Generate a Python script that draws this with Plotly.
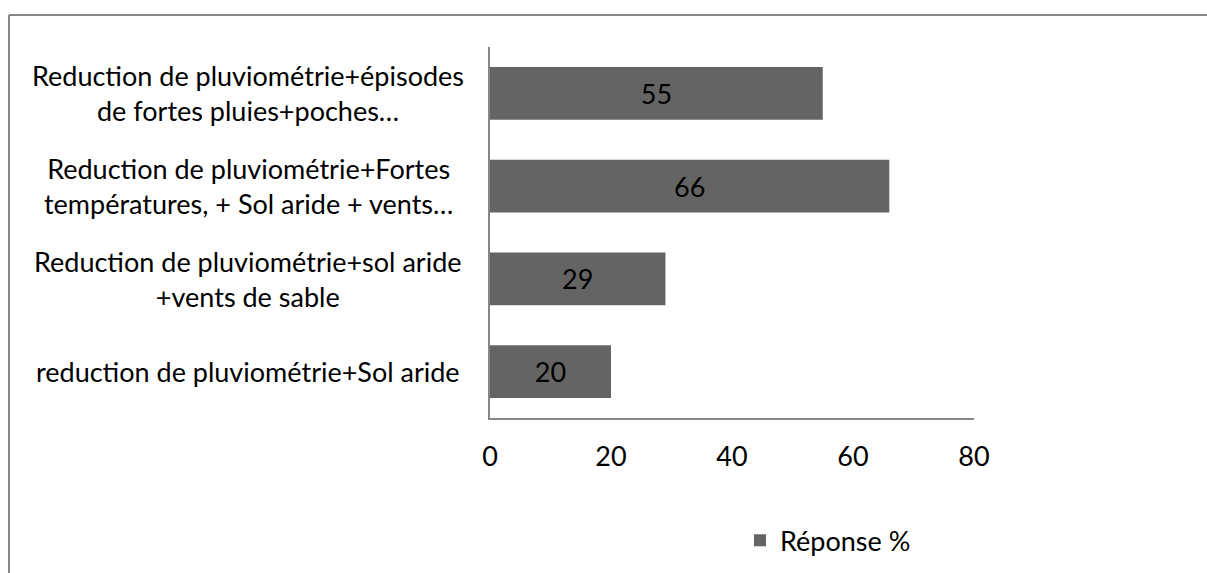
import plotly.graph_objects as go

categories = [
    "reduction de pluviométrie+Sol aride",
    "Reduction de pluviométrie+sol aride<br>+vents de sable",
    "Reduction de pluviométrie+Fortes<br>températures, + Sol aride + vents…",
    "Reduction de pluviométrie+épisodes<br>de fortes pluies+poches…",
]
values = [20, 29, 66, 55]
x_ticks = [0, 20, 40, 60, 80]
series_name = "Réponse %"

FONT = "Lato"
FS = 27
BAR = "#646464"
AXIS = "#868686"

fig = go.Figure()
fig.add_trace(go.Bar(
    y=categories,
    x=values,
    orientation="h",
    name=series_name,
    marker=dict(color=BAR, line=dict(width=0)),
    width=0.57,
    text=[str(v) for v in values],
    textposition="inside",
    insidetextanchor="middle",
    textfont=dict(family=FONT, size=FS, color="#000000"),
    showlegend=True,
))

# category labels, centered like the original
for c in categories:
    fig.add_annotation(
        x=-0.5, xref="paper", y=c, yref="y",
        text=c, showarrow=False, xanchor="center", align="center",
        font=dict(family=FONT, size=FS, color="#000000"),
    )

# outer chart border (only top and left edges are in view)
fig.add_shape(type="line", xref="paper", yref="paper",
              x0=-0.9938, x1=2.0, y0=1.0863, y1=1.0863,
              line=dict(color=AXIS, width=2))
fig.add_shape(type="line", xref="paper", yref="paper",
              x0=-0.9938, x1=-0.9938, y0=-2.0, y1=1.0863,
              line=dict(color=AXIS, width=2))

fig.update_layout(
    width=1207, height=573,
    margin=dict(l=490, r=233, t=47, b=155, autoexpand=False),
    paper_bgcolor="white", plot_bgcolor="white",
    font=dict(family=FONT, size=FS, color="#000000"),
    bargap=0.43,
    xaxis=dict(
        range=[0, 80], tickvals=x_ticks, showgrid=False, zeroline=False,
        showline=True, linecolor=AXIS, linewidth=2, ticks="",
        ticklabelstandoff=14,
        tickfont=dict(family=FONT, size=FS, color="#000000"),
    ),
    yaxis=dict(
        categoryorder="array", categoryarray=categories,
        showticklabels=False, showgrid=False, zeroline=False,
        showline=True, linecolor=AXIS, linewidth=2, ticks="",
    ),
    legend=dict(
        x=0.5165, y=-0.331, xanchor="left", yanchor="middle",
        font=dict(family=FONT, size=FS, color="#000000"),
        itemwidth=30, bgcolor="rgba(0,0,0,0)",
    ),
    showlegend=True,
)

fig.write_html(
    "out.html",
    config={"displayModeBar": False},
    post_script="document.body.style.margin='0';document.body.style.overflow='hidden';",
)
